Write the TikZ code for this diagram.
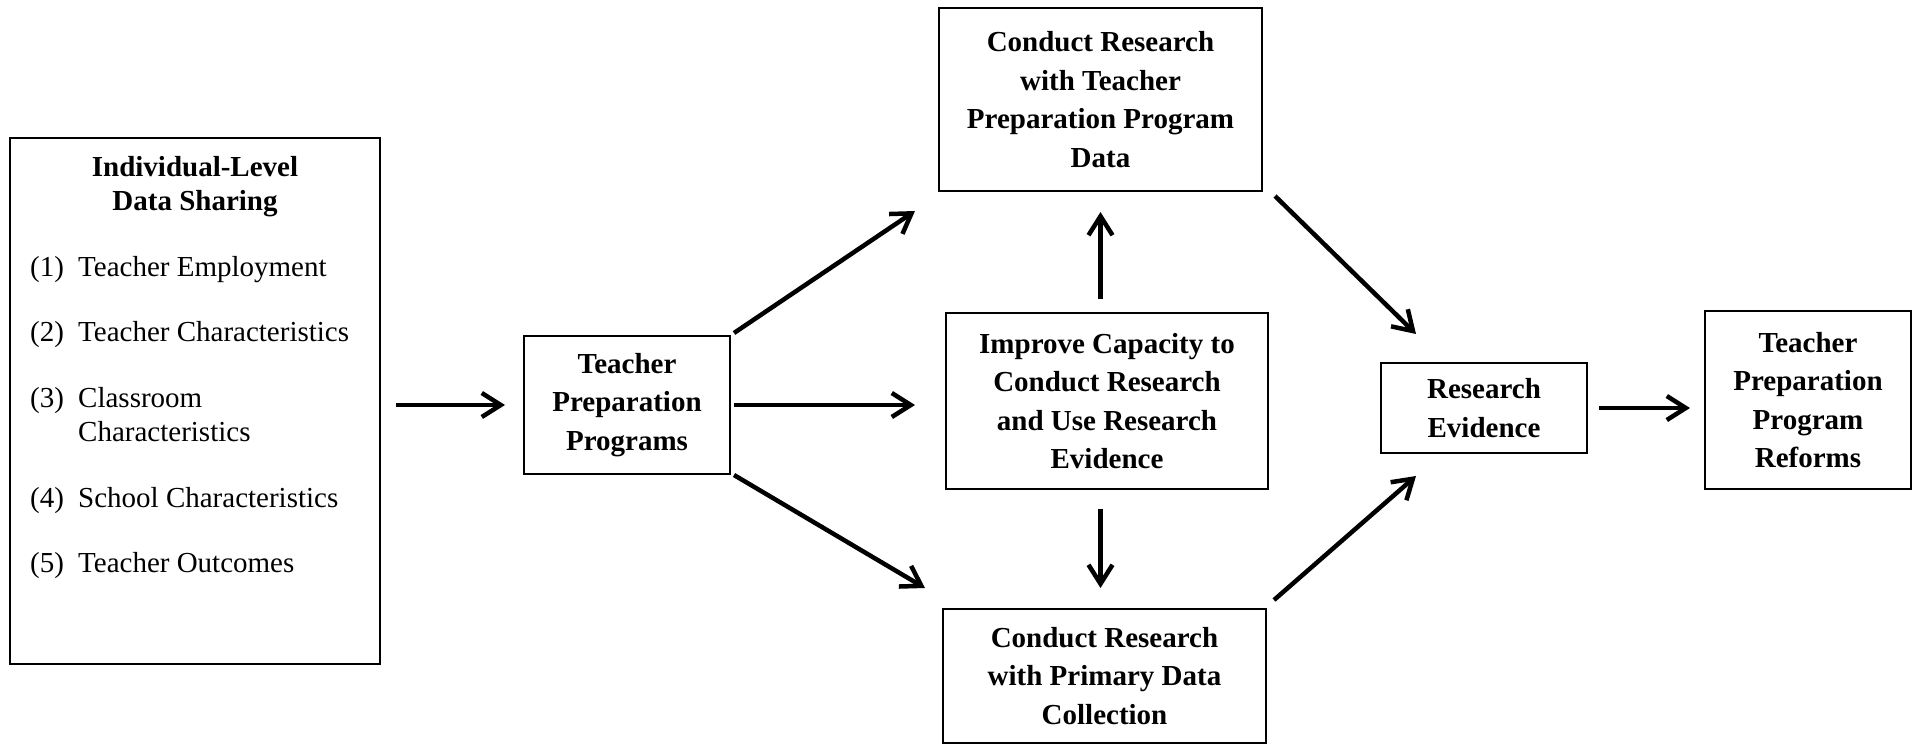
\documentclass[tikz,border=0pt]{standalone}
\usepackage{fontspec}
\setmainfont{Liberation Serif}
\usetikzlibrary{arrows.meta,calc}
\tikzset{
  box/.style={draw, line width=2pt, align=center, inner sep=0pt,
    font=\fontsize{29}{38.5}\selectfont\bfseries},
  flow/.style={line width=4.5pt, -{Straight Barb[length=19pt,width=24pt,line width=4.5pt]}},
  ttl/.style={anchor=base, inner sep=0pt, font=\fontsize{29}{34}\selectfont\bfseries},
  itm/.style={anchor=base west, inner sep=0pt, align=left, font=\fontsize{29}{34}\selectfont},
}
\begin{document}
\begin{tikzpicture}[x=1pt,y=-1pt]
\useasboundingbox (0,0) rectangle (1917,745);
% boxes
\node[box, minimum width=370pt, minimum height=526pt] (ind) at (195,401) {};
\node[box, minimum width=206pt, minimum height=138pt] (tpp) at (627,405) {Teacher\\Preparation\\Programs};
\node[box, minimum width=323pt, minimum height=183pt] (top) at (1100.5,99.5) {Conduct Research\\with Teacher\\Preparation Program\\Data};
\node[box, minimum width=322pt, minimum height=176pt] (mid) at (1107,401) {Improve Capacity to\\Conduct Research\\and Use Research\\Evidence};
\node[box, minimum width=323pt, minimum height=134pt] (bot) at (1104.5,676) {Conduct Research\\with Primary Data\\Collection};
\node[box, minimum width=206pt, minimum height=90pt] (re) at (1484,408) {Research\\Evidence};
\node[box, minimum width=206pt, minimum height=178pt] (ref) at (1808,400) {Teacher\\Preparation\\Program\\Reforms};
% left box text
\node[ttl] (t1) at (195,176) {Individual-Level};
\node[ttl] (t2) at (195,210) {Data Sharing};
\node[itm] (n1) at (30,276) {(1)};
\node[itm] (i1) at (78,276) {Teacher Employment};
\node[itm] (n2) at (30,341) {(2)};
\node[itm] (i2) at (78,341) {Teacher Characteristics};
\node[itm] (n3) at (30,407) {(3)};
\node[itm] (i3) at (78,441) {Classroom\\Characteristics};
\node[itm] (n4) at (30,507) {(4)};
\node[itm] (i4) at (78,507) {School Characteristics};
\node[itm] (n5) at (30,572) {(5)};
\node[itm] (i5) at (78,572) {Teacher Outcomes};
% connectors
\draw[flow] ($(ind.east |- tpp.west)+(15,0)$) -- ($(tpp.west)+(-18,0)$);
\draw[flow] ($(tpp.north east)+(3,-2)$) -- ($(top.south west)+(-23,19)$);
\draw[flow] ($(tpp.east)+(3,0)$) -- ($(tpp.east -| mid.west)+(-30,0)$);
\draw[flow] ($(tpp.south east)+(3,0)$) -- ($(bot.north west)+(-17,-20)$);
\draw[flow] ($(top.south |- mid.north)+(0,-13)$) -- ($(top.south)+(0,20)$);
\draw[flow] ($(top.south |- mid.south)+(0,19)$) -- ($(top.south |- bot.north)+(0,-20)$);
\draw[flow] ($(top.south east)+(12,4)$) -- ($(re.north west)+(36,-28)$);
\draw[flow] ($(bot.north east)+(7,-8)$) -- ($(re.south west)+(36,22)$);
\draw[flow] ($(re.east)+(11,0)$) -- ($(re.east -| ref.west)+(-14,0)$);
\end{tikzpicture}
\end{document}
